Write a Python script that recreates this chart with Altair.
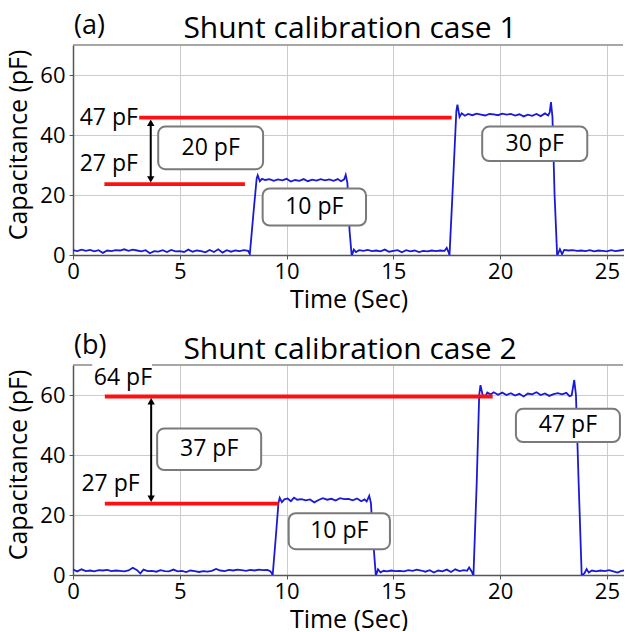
import altair as alt
import pandas as pd

# ---------------- data ----------------
T_A = [0.0, 0.2, 0.4, 0.6, 0.8, 1.0, 1.2, 1.4, 1.6, 1.8, 2.0, 2.2, 2.4, 2.6, 2.8, 3.0, 3.2, 3.4, 3.6, 3.8,
       4.0, 4.2, 4.4, 4.6, 4.8, 5.0, 5.2, 5.4, 5.6, 5.8, 6.0, 6.2, 6.4, 6.6, 6.8, 7.0, 7.2, 7.4, 7.6, 7.8,
       8.0, 8.2, 8.28, 8.45, 8.6, 8.65, 8.75, 8.85, 9.0, 9.2, 9.4, 9.6, 9.8, 10.0, 10.2, 10.4, 10.6, 10.8,
       11.0, 11.2, 11.4, 11.6, 11.8, 12.0, 12.2, 12.4, 12.55, 12.7, 12.77, 12.85, 12.95, 13.05, 13.15, 13.25,
       13.4, 13.6, 13.8, 14.0, 14.2, 14.4, 14.6, 14.8, 15.0, 15.2, 15.4, 15.6, 15.8, 16.0, 16.2, 16.4, 16.6,
       16.8, 17.0, 17.2, 17.4, 17.5, 17.58, 17.63, 17.8, 17.95, 18.0, 18.1, 18.2, 18.35, 18.5, 18.7, 18.9,
       19.1, 19.3, 19.5, 19.7, 19.9, 20.1, 20.3, 20.5, 20.7, 20.9, 21.1, 21.3, 21.5, 21.7, 21.9, 22.1, 22.25,
       22.32, 22.38, 22.45, 22.55, 22.67, 22.8, 22.9, 23.0, 23.2, 23.4, 23.6, 23.8, 24.0, 24.2, 24.4, 24.6,
       24.8, 25.0, 25.2, 25.4, 25.6, 25.8]
C_A = [1.6, 1.3, 1.8, 1.4, 1.7, 1.2, 1.6, 0.7, 1.5, 1.3, 1.6, 1.5, 1.9, 1.4, 1.8, 1.5, 1.2, 1.6, 0.6, 1.3,
       1.1, 1.6, 1.0, 1.7, 1.2, 1.3, 1.0, 1.8, 1.1, 1.5, 1.3, 0.9, 1.7, 1.0, 1.9, 0.8, 1.6, 1.1, 1.5, 1.3,
       1.6, 1.4, 0.3, 14.0, 25.5, 26.6, 24.6, 25.4, 25.0, 25.3, 24.7, 25.2, 24.9, 25.4, 24.5, 25.0, 24.7, 25.3,
       24.6, 25.1, 24.8, 25.3, 24.9, 25.2, 24.7, 25.3, 24.6, 25.2, 26.7, 24.0, 8.0, -0.3, 1.8, 1.0,
       1.6, 1.4, 1.7, 1.3, 1.5, 1.2, 1.8, 1.1, 1.4, 1.6, 0.9, 1.6, 1.2, 1.5, 1.0, 1.4, 1.2,
       1.5, 1.3, 1.5, 1.4, 2.4, 1.0, 0.0, 25.0, 48.0, 50.1, 46.0, 47.2, 46.4, 47.0, 46.6, 47.1,
       46.8, 46.5, 47.0, 46.9, 46.6, 47.1, 46.8, 47.0, 46.5, 46.9, 46.2, 46.8, 46.4, 47.0, 46.3, 47.2, 46.5,
       47.5, 51.0, 46.0, 20.0, -0.2, 1.9, 0.3, 1.7, 1.5, 1.6, 1.4, 1.5, 1.3, 1.6, 1.2, 1.5,
       1.4, 1.2, 1.6, 1.3, 1.5, 1.7]

T_B = [0.0, 0.2, 0.4, 0.6, 0.8, 1.0, 1.2, 1.4, 1.6, 1.8, 2.0, 2.2, 2.4, 2.6, 2.8, 3.0, 3.15, 3.3, 3.5, 3.7,
       3.9, 4.1, 4.3, 4.5, 4.7, 4.9, 5.1, 5.3, 5.5, 5.7, 5.9, 6.1, 6.3, 6.5, 6.7, 6.9, 7.1, 7.3, 7.5, 7.7,
       7.9, 8.1, 8.3, 8.5, 8.7, 8.9, 9.1, 9.25, 9.35, 9.5, 9.62, 9.68, 9.78, 9.9, 10.05, 10.2, 10.35, 10.5,
       10.7, 10.9, 11.1, 11.3, 11.5, 11.7, 11.9, 12.1, 12.3, 12.5, 12.7, 12.9, 13.1, 13.3, 13.5, 13.65, 13.75,
       13.87, 13.95, 14.05, 14.18, 14.28, 14.4, 14.55, 14.7, 14.9, 15.1, 15.3, 15.5, 15.7, 15.9, 16.1, 16.3,
       16.5, 16.7, 16.9, 17.1, 17.3, 17.5, 17.7, 17.9, 18.1, 18.3, 18.45, 18.55, 18.68, 18.75, 18.9, 19.02,
       19.08, 19.18, 19.3, 19.4, 19.55, 19.7, 19.9, 20.1, 20.3, 20.5, 20.7, 20.9, 21.1, 21.3, 21.5, 21.7,
       21.9, 22.1, 22.3, 22.5, 22.7, 22.9, 23.1, 23.25, 23.35, 23.47, 23.55, 23.68, 23.82, 23.95, 24.05,
       24.15, 24.3, 24.5, 24.7, 24.9, 25.1, 25.3, 25.5, 25.65, 25.8]
C_B = [1.8, 1.2, 1.9, 1.3, 1.5, 1.2, 1.6, 1.5, 1.7, 1.3, 1.5, 1.4, 1.2, 1.5, 2.4, 1.6, 0.5, 1.8, 1.3, 1.4,
       1.1, 1.6, 1.3, 1.2, 1.8, 1.2, 1.4, 1.0, 1.5, 1.3, 1.0, 1.3, 1.1, 1.4, 2.0, 1.5, 1.3, 1.7, 1.5, 1.8,
       1.6, 1.4, 1.7, 1.5, 1.8, 1.6, 1.7, 1.2, 0.0, 13.0, 24.0, 25.7, 24.3, 25.2, 25.5, 24.6, 25.8, 25.1,
       25.3, 24.9, 25.2, 24.2, 25.0, 25.6, 25.1, 25.4, 24.8, 25.6, 25.3, 25.4, 24.9, 25.5, 24.6, 25.2, 24.5,
       26.4, 24.0, 12.0, -0.3, 1.9, 0.9, 1.4, 1.2, 1.5, 1.3, 1.4, 1.2, 1.6, 1.4, 1.8, 1.5,
       1.1, 1.6, 0.8, 1.5, 1.2, 1.8, 1.0, 1.9, 1.3, 1.6, 1.4, 2.5, 1.0, -0.3, 30.0, 60.0,
       63.3, 60.0, 59.5, 60.8, 60.2, 60.9, 60.1, 60.8, 60.0, 60.6, 59.8, 60.4, 59.5, 60.5, 60.2, 60.9,
       60.0, 60.5, 59.7, 60.3, 60.6, 60.2, 60.7, 59.6, 59.9, 65.0, 60.0, 30.0, -0.3, 0.6, 2.0,
       0.8, 1.5, 1.2, 1.5, 1.3, 1.6, 1.2, 0.8, 1.3, 1.5]

# red reference lines: start, end, level
RED_A_X1 = [3.1, 1.47]
RED_A_X2 = [17.73, 8.05]
RED_A_Y = [45.8, 23.6]
RED_B_X1 = [1.49, 1.49]
RED_B_X2 = [19.65, 9.63]
RED_B_Y = [59.5, 23.8]

# level labels
LVL_A_TEXT = ["47 pF", "27 pF"]
LVL_A_X = [3.04, 3.04]
LVL_A_Y = [45.6, 30.5]
LVL_B_TEXT = ["64 pF", "27 pF"]
LVL_B_X = [3.7, 3.12]
LVL_B_Y = [65.8, 30.3]

# arrows (x, top, bottom)
ARR_A = [3.64, 45.4, 23.9]
ARR_B = [3.66, 59.2, 24.1]

# boxed labels
BOX_A_TEXT = ["20 pF", "10 pF", "30 pF"]
BOX_A_X1 = [3.99, 8.88, 19.16]
BOX_A_X2 = [8.9, 13.72, 24.08]
BOX_A_Y1 = [28.6, 9.8, 31.3]
BOX_A_Y2 = [42.8, 22.2, 42.8]
BOX_B_TEXT = ["37 pF", "10 pF", "47 pF"]
BOX_B_X1 = [3.94, 10.1, 20.74]
BOX_B_X2 = [8.81, 14.84, 25.61]
BOX_B_Y1 = [35.0, 8.6, 44.3]
BOX_B_Y2 = [48.8, 20.6, 55.4]

X_TICKS = [0, 5, 10, 15, 20, 25]
Y_TICKS = [0, 20, 40, 60]
X_MAX = 25.8
Y_MAX = 70
X_TITLE = "Time (Sec)"
Y_TITLE = "Capacitance (pF)"

W = 551
H = 210
FONT = "Open Sans"


def panel(t, c, rx1, rx2, ry, ltext, lx, ly, arr, btext, bx1, bx2, by1, by2, tag, title,
          white_patch, anchor, title_y):
    xs = alt.Scale(domain=[0, X_MAX], nice=False, zero=False)
    ys = alt.Scale(domain=[0, Y_MAX], nice=False)
    xax = alt.Axis(values=X_TICKS, title=X_TITLE, grid=True, labelFlush=False)
    yax = alt.Axis(values=Y_TICKS, title=None, grid=True, labelFlush=False)

    sig = pd.DataFrame({"t": t, "c": c})
    line = alt.Chart(sig).mark_line(color="#1a1ad6", strokeWidth=1.8, clip=True).encode(
        x=alt.X("t:Q", scale=xs, axis=xax),
        y=alt.Y("c:Q", scale=ys, axis=yax),
    )
    one = pd.DataFrame({"k": [0]})
    border = alt.Chart(one).mark_rule(color="#8a8a8a", strokeWidth=1.5).encode(
        x=alt.value(0), x2=alt.value(W - 1), y=alt.value(0)
    )
    layers = [line, border]
    if anchor:
        # invisible white corner that pins the chart's top-left at the page origin
        layers.append(alt.Chart(one).mark_rect(color="white").encode(
            x=alt.value(-73), x2=alt.value(-72), y=alt.value(-45), y2=alt.value(-44)))
    if white_patch:
        wp = pd.DataFrame({"x1": [white_patch[0]], "x2": [white_patch[1]],
                           "y1": [white_patch[2]], "y2": [white_patch[3]]})
        layers.append(alt.Chart(wp).mark_rect(color="white").encode(
            x=alt.X("x1:Q", scale=xs), x2="x2:Q", y=alt.Y("y1:Q", scale=ys), y2="y2:Q"))
    red = pd.DataFrame({"x1": rx1, "x2": rx2, "y": ry})
    layers.append(alt.Chart(red).mark_rule(color="#ff1010", strokeWidth=3.8).encode(
        x=alt.X("x1:Q", scale=xs), x2="x2:Q", y=alt.Y("y:Q", scale=ys)))
    ad = pd.DataFrame({"x": [arr[0]], "y1": [arr[1] - 2.0], "y2": [arr[2] + 2.0]})
    layers.append(alt.Chart(ad).mark_rule(color="black", strokeWidth=2).encode(
        x=alt.X("x:Q", scale=xs), y=alt.Y("y1:Q", scale=ys), y2="y2:Q"))
    heads = pd.DataFrame({"x": [arr[0], arr[0]], "y": [arr[1] - 1.3, arr[2] + 1.3],
                          "s": ["triangle-up", "triangle-down"]})
    layers.append(alt.Chart(heads).mark_point(filled=True, color="black", size=55, opacity=1).encode(
        x=alt.X("x:Q", scale=xs), y=alt.Y("y:Q", scale=ys),
        shape=alt.Shape("s:N", scale=None, legend=None)))
    lv = pd.DataFrame({"x": lx, "y": ly, "txt": ltext})
    layers.append(alt.Chart(lv).mark_text(align="right", baseline="middle", fontSize=23, font=FONT,
                                          color="black").encode(
        x=alt.X("x:Q", scale=xs), y=alt.Y("y:Q", scale=ys), text="txt:N"))
    bx = pd.DataFrame({"x1": bx1, "x2": bx2, "y1": by1, "y2": by2, "txt": btext})
    bx["xm"] = [(a + b) / 2 for a, b in zip(bx1, bx2)]
    bx["ym"] = [(a + b) / 2 for a, b in zip(by1, by2)]
    layers.append(alt.Chart(bx).mark_rect(fill="white", stroke="#7a7a7a", strokeWidth=2,
                                          cornerRadius=7).encode(
        x=alt.X("x1:Q", scale=xs), x2="x2:Q", y=alt.Y("y1:Q", scale=ys), y2="y2:Q"))
    layers.append(alt.Chart(bx).mark_text(align="center", baseline="middle", fontSize=23, font=FONT,
                                          color="black").encode(
        x=alt.X("xm:Q", scale=xs), y=alt.Y("ym:Q", scale=ys), text="txt:N"))
    layers.append(alt.Chart(pd.DataFrame({"l": [tag]})).mark_text(
        align="left", baseline="middle", fontSize=27, font=FONT, color="black").encode(
        x=alt.value(1), y=alt.value(-19), text="l:N"))
    layers.append(alt.Chart(pd.DataFrame({"l": [title]})).mark_text(
        align="center", baseline="alphabetic", fontSize=30, font=FONT, color="black").encode(
        x=alt.value(277), y=alt.value(title_y), text="l:N"))
    layers.append(alt.Chart(pd.DataFrame({"l": [Y_TITLE]})).mark_text(
        align="center", baseline="middle", angle=270, fontSize=25, font=FONT, color="black").encode(
        x=alt.value(-54), y=alt.value(H / 2 - 5), text="l:N"))
    return alt.layer(*layers).properties(width=W, height=H)


pa = panel(T_A, C_A, RED_A_X1, RED_A_X2, RED_A_Y, LVL_A_TEXT, LVL_A_X, LVL_A_Y, ARR_A,
           BOX_A_TEXT, BOX_A_X1, BOX_A_X2, BOX_A_Y1, BOX_A_Y2, "(a)", "Shunt calibration case 1",
           None, True, -7)
pb = panel(T_B, C_B, RED_B_X1, RED_B_X2, RED_B_Y, LVL_B_TEXT, LVL_B_X, LVL_B_Y, ARR_B,
           BOX_B_TEXT, BOX_B_X1, BOX_B_X2, BOX_B_Y1, BOX_B_Y2, "(b)", "Shunt calibration case 2",
           [0.9, 3.7, 68.0, 71.0], False, -6)

chart = alt.VConcatChart(vconcat=[pa, pb], spacing=110, bounds="flush").properties(
    padding={"left": 0, "top": 0, "right": 0, "bottom": -1}
).configure_view(stroke=None).configure_axis(
    labelFont=FONT, titleFont=FONT, labelFontSize=22, titleFontSize=25,
    labelColor="black", titleColor="black", titleFontWeight="normal",
    domainColor="#555555", domainWidth=1.5, tickColor="#555555", tickSize=4,
    gridColor="#cccccc", gridWidth=1,
).configure_axisY(labelPadding=4).configure_axisX(titlePadding=5, labelPadding=2)

chart.save("out.html", embed_options={"renderer": "svg", "actions": False})
